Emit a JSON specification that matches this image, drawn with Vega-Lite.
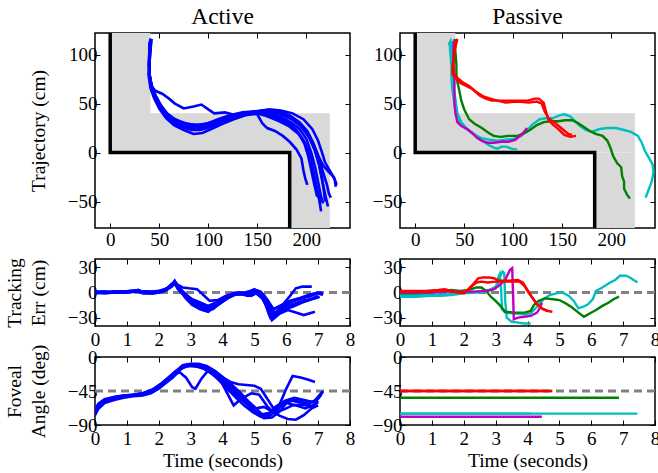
{
"$schema":"https://vega.github.io/schema/vega-lite/v6.json",
"padding":{"left":3,"top":4,"right":0,"bottom":0},
"config":{
 "view":{"stroke":"black","strokeWidth":1.5},
 "font":"Liberation Serif",
 "axis":{"domain":false,"grid":false,"tickSize":-5,"tickColor":"black","tickWidth":1,"labelFont":"Liberation Serif","labelFontSize":19,"labelColor":"black","labelPadding":3,"labelFlush":false,"labelOverlap":false,"labelBound":false,"titleFont":"Liberation Serif","titleFontSize":19.5,"titleFontWeight":"normal","titleColor":"black","titlePadding":3,"titleLineHeight":23.5},
 "title":{"font":"Liberation Serif","fontSize":23.5,"fontWeight":"normal","color":"black","offset":4,"frame":"group"}
},
"datasets":{
"region":[{"x":0,"x2":41,"y":0,"y2":130},{"x":0,"x2":224,"y":0,"y2":40},{"x":183,"x2":224,"y":-90,"y2":0}],
"wall":[{"x":0,"y":130},{"x":0,"y":0},{"x":183,"y":0},{"x":183,"y":-90}],
"ref0":[{"t":0,"v":0},{"t":8,"v":0}],
"ref45":[{"t":0,"v":-45},{"t":8,"v":-45}],
"trajA":[
{"k":"a1","x":41,"y":116},{"k":"a1","x":40,"y":104},{"k":"a1","x":40,"y":92},{"k":"a1","x":40,"y":80},{"k":"a1","x":42,"y":68},{"k":"a1","x":46,"y":63},{"k":"a1","x":53,"y":60},{"k":"a1","x":60,"y":55},{"k":"a1","x":66,"y":50},{"k":"a1","x":75,"y":45},{"k":"a1","x":85,"y":47},{"k":"a1","x":93,"y":49},{"k":"a1","x":100,"y":44},{"k":"a1","x":106,"y":40},{"k":"a1","x":117,"y":41},{"k":"a1","x":128,"y":38},{"k":"a1","x":140,"y":40},{"k":"a1","x":152,"y":41},{"k":"a1","x":163,"y":39},{"k":"a1","x":174,"y":36},{"k":"a1","x":184,"y":31},{"k":"a1","x":193,"y":24},{"k":"a1","x":200,"y":14},{"k":"a1","x":205,"y":0},{"k":"a1","x":209,"y":-15},{"k":"a1","x":212,"y":-30},{"k":"a1","x":215,"y":-45},{"k":"a1","x":217,"y":-52},
{"k":"a2","x":42,"y":116},{"k":"a2","x":41,"y":104},{"k":"a2","x":40,"y":92},{"k":"a2","x":40,"y":80},{"k":"a2","x":42,"y":67},{"k":"a2","x":45,"y":58},{"k":"a2","x":49,"y":50},{"k":"a2","x":54,"y":42},{"k":"a2","x":61,"y":36},{"k":"a2","x":70,"y":32},{"k":"a2","x":80,"y":29},{"k":"a2","x":90,"y":28},{"k":"a2","x":100,"y":30},{"k":"a2","x":110,"y":34},{"k":"a2","x":122,"y":38},{"k":"a2","x":135,"y":41},{"k":"a2","x":148,"y":42},{"k":"a2","x":160,"y":43},{"k":"a2","x":172,"y":42},{"k":"a2","x":183,"y":38},{"k":"a2","x":193,"y":31},{"k":"a2","x":201,"y":22},{"k":"a2","x":207,"y":10},{"k":"a2","x":212,"y":-3},{"k":"a2","x":217,"y":-13},{"k":"a2","x":223,"y":-20},{"k":"a2","x":228,"y":-25},{"k":"a2","x":231,"y":-33},
{"k":"a3","x":41,"y":115},{"k":"a3","x":40,"y":103},{"k":"a3","x":39,"y":90},{"k":"a3","x":40,"y":78},{"k":"a3","x":42,"y":64},{"k":"a3","x":46,"y":54},{"k":"a3","x":51,"y":44},{"k":"a3","x":57,"y":35},{"k":"a3","x":65,"y":28},{"k":"a3","x":75,"y":23},{"k":"a3","x":85,"y":19},{"k":"a3","x":94,"y":20},{"k":"a3","x":103,"y":24},{"k":"a3","x":114,"y":29},{"k":"a3","x":126,"y":34},{"k":"a3","x":138,"y":38},{"k":"a3","x":150,"y":40},{"k":"a3","x":160,"y":37},{"k":"a3","x":170,"y":33},{"k":"a3","x":182,"y":27},{"k":"a3","x":192,"y":19},{"k":"a3","x":199,"y":9},{"k":"a3","x":204,"y":-4},{"k":"a3","x":207,"y":-18},{"k":"a3","x":210,"y":-33},{"k":"a3","x":213,"y":-47},{"k":"a3","x":215,"y":-60},
{"k":"a4","x":41,"y":115},{"k":"a4","x":40,"y":103},{"k":"a4","x":40,"y":90},{"k":"a4","x":40,"y":79},{"k":"a4","x":43,"y":65},{"k":"a4","x":47,"y":55},{"k":"a4","x":52,"y":45},{"k":"a4","x":58,"y":37},{"k":"a4","x":66,"y":31},{"k":"a4","x":76,"y":27},{"k":"a4","x":86,"y":24},{"k":"a4","x":96,"y":26},{"k":"a4","x":107,"y":31},{"k":"a4","x":118,"y":35},{"k":"a4","x":130,"y":38},{"k":"a4","x":142,"y":40},{"k":"a4","x":150,"y":39},{"k":"a4","x":155,"y":30},{"k":"a4","x":160,"y":25},{"k":"a4","x":168,"y":22},{"k":"a4","x":176,"y":17},{"k":"a4","x":183,"y":11},{"k":"a4","x":190,"y":3},{"k":"a4","x":195,"y":-6},{"k":"a4","x":197,"y":-18},{"k":"a4","x":199,"y":-27},{"k":"a4","x":201,"y":-33},
{"k":"a5","x":42,"y":116},{"k":"a5","x":41,"y":103},{"k":"a5","x":40,"y":91},{"k":"a5","x":40,"y":80},{"k":"a5","x":42,"y":66},{"k":"a5","x":46,"y":56},{"k":"a5","x":50,"y":47},{"k":"a5","x":56,"y":39},{"k":"a5","x":63,"y":33},{"k":"a5","x":72,"y":29},{"k":"a5","x":82,"y":26},{"k":"a5","x":92,"y":25},{"k":"a5","x":102,"y":28},{"k":"a5","x":113,"y":32},{"k":"a5","x":125,"y":36},{"k":"a5","x":137,"y":39},{"k":"a5","x":149,"y":41},{"k":"a5","x":160,"y":42},{"k":"a5","x":172,"y":40},{"k":"a5","x":184,"y":36},{"k":"a5","x":194,"y":29},{"k":"a5","x":202,"y":19},{"k":"a5","x":208,"y":7},{"k":"a5","x":213,"y":-6},{"k":"a5","x":217,"y":-20},{"k":"a5","x":221,"y":-33},{"k":"a5","x":223,"y":-42},{"k":"a5","x":225,"y":-46},
{"k":"a6","x":41,"y":116},{"k":"a6","x":40,"y":104},{"k":"a6","x":40,"y":91},{"k":"a6","x":39,"y":80},{"k":"a6","x":41,"y":66},{"k":"a6","x":45,"y":55},{"k":"a6","x":50,"y":45},{"k":"a6","x":56,"y":37},{"k":"a6","x":64,"y":31},{"k":"a6","x":73,"y":26},{"k":"a6","x":83,"y":23},{"k":"a6","x":92,"y":23},{"k":"a6","x":102,"y":26},{"k":"a6","x":112,"y":31},{"k":"a6","x":124,"y":35},{"k":"a6","x":136,"y":39},{"k":"a6","x":148,"y":41},{"k":"a6","x":159,"y":40},{"k":"a6","x":170,"y":36},{"k":"a6","x":181,"y":31},{"k":"a6","x":190,"y":23},{"k":"a6","x":197,"y":13},{"k":"a6","x":202,"y":1},{"k":"a6","x":205,"y":-12},{"k":"a6","x":208,"y":-26},{"k":"a6","x":211,"y":-40},{"k":"a6","x":214,"y":-51},
{"k":"a7","x":41,"y":115},{"k":"a7","x":40,"y":102},{"k":"a7","x":40,"y":90},{"k":"a7","x":40,"y":79},{"k":"a7","x":42,"y":65},{"k":"a7","x":46,"y":56},{"k":"a7","x":51,"y":47},{"k":"a7","x":57,"y":40},{"k":"a7","x":64,"y":34},{"k":"a7","x":73,"y":30},{"k":"a7","x":83,"y":27},{"k":"a7","x":93,"y":27},{"k":"a7","x":103,"y":29},{"k":"a7","x":114,"y":33},{"k":"a7","x":126,"y":37},{"k":"a7","x":138,"y":40},{"k":"a7","x":150,"y":42},{"k":"a7","x":162,"y":44},{"k":"a7","x":174,"y":43},{"k":"a7","x":186,"y":40},{"k":"a7","x":197,"y":34},{"k":"a7","x":206,"y":24},{"k":"a7","x":212,"y":12},{"k":"a7","x":216,"y":0},{"k":"a7","x":219,"y":-10},{"k":"a7","x":223,"y":-17},{"k":"a7","x":226,"y":-22},{"k":"a7","x":229,"y":-28},{"k":"a7","x":230,"y":-35},
{"k":"a8","x":41,"y":115},{"k":"a8","x":40,"y":103},{"k":"a8","x":40,"y":91},{"k":"a8","x":40,"y":80},{"k":"a8","x":42,"y":66},{"k":"a8","x":46,"y":56},{"k":"a8","x":51,"y":47},{"k":"a8","x":57,"y":38},{"k":"a8","x":65,"y":32},{"k":"a8","x":74,"y":28},{"k":"a8","x":84,"y":25},{"k":"a8","x":94,"y":24},{"k":"a8","x":104,"y":27},{"k":"a8","x":115,"y":32},{"k":"a8","x":127,"y":36},{"k":"a8","x":139,"y":39},{"k":"a8","x":151,"y":40},{"k":"a8","x":162,"y":38},{"k":"a8","x":173,"y":34},{"k":"a8","x":184,"y":28},{"k":"a8","x":192,"y":20},{"k":"a8","x":198,"y":9},{"k":"a8","x":202,"y":-4},{"k":"a8","x":205,"y":-18},{"k":"a8","x":208,"y":-32},{"k":"a8","x":211,"y":-45},
{"k":"a9","x":41,"y":116},{"k":"a9","x":40,"y":104},{"k":"a9","x":40,"y":92},{"k":"a9","x":40,"y":81},{"k":"a9","x":42,"y":67},{"k":"a9","x":46,"y":57},{"k":"a9","x":50,"y":48},{"k":"a9","x":55,"y":40},{"k":"a9","x":62,"y":34},{"k":"a9","x":71,"y":29},{"k":"a9","x":81,"y":26},{"k":"a9","x":91,"y":26},{"k":"a9","x":101,"y":28},{"k":"a9","x":112,"y":33},{"k":"a9","x":124,"y":37},{"k":"a9","x":136,"y":40},{"k":"a9","x":149,"y":42},{"k":"a9","x":161,"y":41},{"k":"a9","x":173,"y":39},{"k":"a9","x":185,"y":34},{"k":"a9","x":195,"y":26},{"k":"a9","x":203,"y":15},{"k":"a9","x":209,"y":2},{"k":"a9","x":213,"y":-13},{"k":"a9","x":216,"y":-28},{"k":"a9","x":219,"y":-42},{"k":"a9","x":222,"y":-55},
{"k":"a10","x":41,"y":116},{"k":"a10","x":40,"y":103},{"k":"a10","x":40,"y":90},{"k":"a10","x":40,"y":79},{"k":"a10","x":43,"y":66},{"k":"a10","x":47,"y":57},{"k":"a10","x":52,"y":48},{"k":"a10","x":58,"y":40},{"k":"a10","x":66,"y":34},{"k":"a10","x":76,"y":30},{"k":"a10","x":86,"y":28},{"k":"a10","x":96,"y":29},{"k":"a10","x":106,"y":32},{"k":"a10","x":117,"y":36},{"k":"a10","x":129,"y":39},{"k":"a10","x":141,"y":41},{"k":"a10","x":153,"y":42},{"k":"a10","x":165,"y":41},{"k":"a10","x":177,"y":38},{"k":"a10","x":188,"y":33},{"k":"a10","x":197,"y":25},{"k":"a10","x":204,"y":14},{"k":"a10","x":209,"y":1},{"k":"a10","x":213,"y":-12},{"k":"a10","x":216,"y":-26},{"k":"a10","x":218,"y":-40},{"k":"a10","x":219,"y":-50}
],
"trajP":[
{"k":"c1","c":"c","x":34,"y":110},{"k":"c1","c":"c","x":36,"y":114},{"k":"c1","c":"c","x":38,"y":104},{"k":"c1","c":"c","x":38,"y":92},{"k":"c1","c":"c","x":38,"y":80},{"k":"c1","c":"c","x":39,"y":67},{"k":"c1","c":"c","x":41,"y":55},{"k":"c1","c":"c","x":43,"y":40},{"k":"c1","c":"c","x":47,"y":31},{"k":"c1","c":"c","x":52,"y":25},{"k":"c1","c":"c","x":59,"y":19},{"k":"c1","c":"c","x":67,"y":15},{"k":"c1","c":"c","x":76,"y":13},{"k":"c1","c":"c","x":84,"y":12},{"k":"c1","c":"c","x":92,"y":13},{"k":"c1","c":"c","x":100,"y":14},{"k":"c1","c":"c","x":108,"y":17},{"k":"c1","c":"c","x":114,"y":23},{"k":"c1","c":"c","x":120,"y":29},{"k":"c1","c":"c","x":127,"y":34},{"k":"c1","c":"c","x":133,"y":35},{"k":"c1","c":"c","x":140,"y":35},{"k":"c1","c":"c","x":147,"y":38},{"k":"c1","c":"c","x":152,"y":39},{"k":"c1","c":"c","x":158,"y":37},{"k":"c1","c":"c","x":163,"y":32},{"k":"c1","c":"c","x":168,"y":27},{"k":"c1","c":"c","x":174,"y":23},{"k":"c1","c":"c","x":180,"y":21},{"k":"c1","c":"c","x":188,"y":24},{"k":"c1","c":"c","x":196,"y":25},{"k":"c1","c":"c","x":205,"y":25},{"k":"c1","c":"c","x":213,"y":23},{"k":"c1","c":"c","x":220,"y":21},{"k":"c1","c":"c","x":227,"y":17},{"k":"c1","c":"c","x":231,"y":10},{"k":"c1","c":"c","x":234,"y":2},{"k":"c1","c":"c","x":238,"y":-5},{"k":"c1","c":"c","x":242,"y":-12},{"k":"c1","c":"c","x":243,"y":-20},{"k":"c1","c":"c","x":241,"y":-30},{"k":"c1","c":"c","x":238,"y":-38},{"k":"c1","c":"c","x":235,"y":-46},
{"k":"c2","c":"c","x":35,"y":112},{"k":"c2","c":"c","x":36,"y":100},{"k":"c2","c":"c","x":37,"y":88},{"k":"c2","c":"c","x":37,"y":76},{"k":"c2","c":"c","x":38,"y":63},{"k":"c2","c":"c","x":40,"y":50},{"k":"c2","c":"c","x":42,"y":40},{"k":"c2","c":"c","x":46,"y":30},{"k":"c2","c":"c","x":51,"y":25},{"k":"c2","c":"c","x":57,"y":21},{"k":"c2","c":"c","x":64,"y":16},{"k":"c2","c":"c","x":70,"y":11},{"k":"c2","c":"c","x":76,"y":7},{"k":"c2","c":"c","x":80,"y":5},{"k":"c2","c":"c","x":84,"y":4},{"k":"c2","c":"c","x":88,"y":6},{"k":"c2","c":"c","x":93,"y":6},{"k":"c2","c":"c","x":98,"y":4},{"k":"c2","c":"c","x":104,"y":3},
{"k":"g1","c":"g","x":40,"y":116},{"k":"g1","c":"g","x":41,"y":103},{"k":"g1","c":"g","x":42,"y":90},{"k":"g1","c":"g","x":42,"y":80},{"k":"g1","c":"g","x":43,"y":72},{"k":"g1","c":"g","x":45,"y":63},{"k":"g1","c":"g","x":47,"y":53},{"k":"g1","c":"g","x":50,"y":44},{"k":"g1","c":"g","x":55,"y":34},{"k":"g1","c":"g","x":61,"y":29},{"k":"g1","c":"g","x":68,"y":25},{"k":"g1","c":"g","x":75,"y":20},{"k":"g1","c":"g","x":80,"y":17},{"k":"g1","c":"g","x":87,"y":16},{"k":"g1","c":"g","x":95,"y":17},{"k":"g1","c":"g","x":104,"y":17},{"k":"g1","c":"g","x":110,"y":19},{"k":"g1","c":"g","x":117,"y":23},{"k":"g1","c":"g","x":124,"y":28},{"k":"g1","c":"g","x":131,"y":31},{"k":"g1","c":"g","x":138,"y":32},{"k":"g1","c":"g","x":146,"y":32},{"k":"g1","c":"g","x":153,"y":33},{"k":"g1","c":"g","x":160,"y":33},{"k":"g1","c":"g","x":166,"y":30},{"k":"g1","c":"g","x":172,"y":26},{"k":"g1","c":"g","x":178,"y":22},{"k":"g1","c":"g","x":184,"y":19},{"k":"g1","c":"g","x":191,"y":17},{"k":"g1","c":"g","x":196,"y":12},{"k":"g1","c":"g","x":199,"y":5},{"k":"g1","c":"g","x":202,"y":-4},{"k":"g1","c":"g","x":206,"y":-11},{"k":"g1","c":"g","x":210,"y":-15},{"k":"g1","c":"g","x":211,"y":-24},{"k":"g1","c":"g","x":213,"y":-30},{"k":"g1","c":"g","x":213,"y":-37},{"k":"g1","c":"g","x":216,"y":-43},{"k":"g1","c":"g","x":219,"y":-47},
{"k":"m1","c":"m","x":39,"y":114},{"k":"m1","c":"m","x":39,"y":102},{"k":"m1","c":"m","x":39,"y":90},{"k":"m1","c":"m","x":40,"y":75},{"k":"m1","c":"m","x":40,"y":60},{"k":"m1","c":"m","x":40,"y":50},{"k":"m1","c":"m","x":41,"y":40},{"k":"m1","c":"m","x":43,"y":31},{"k":"m1","c":"m","x":47,"y":27},{"k":"m1","c":"m","x":53,"y":24},{"k":"m1","c":"m","x":58,"y":20},{"k":"m1","c":"m","x":63,"y":15},{"k":"m1","c":"m","x":68,"y":12},{"k":"m1","c":"m","x":74,"y":10},{"k":"m1","c":"m","x":80,"y":10},{"k":"m1","c":"m","x":88,"y":11},{"k":"m1","c":"m","x":95,"y":11},{"k":"m1","c":"m","x":102,"y":13},{"k":"m1","c":"m","x":107,"y":17},{"k":"m1","c":"m","x":111,"y":21},{"k":"m1","c":"m","x":114,"y":25},
{"k":"r1","c":"r","x":42,"y":115},{"k":"r1","c":"r","x":41,"y":110},{"k":"r1","c":"r","x":40,"y":103},{"k":"r1","c":"r","x":39,"y":95},{"k":"r1","c":"r","x":38,"y":88},{"k":"r1","c":"r","x":38,"y":80},{"k":"r1","c":"r","x":41,"y":76},{"k":"r1","c":"r","x":46,"y":71},{"k":"r1","c":"r","x":52,"y":68},{"k":"r1","c":"r","x":58,"y":65},{"k":"r1","c":"r","x":66,"y":58},{"k":"r1","c":"r","x":72,"y":55},{"k":"r1","c":"r","x":78,"y":53},{"k":"r1","c":"r","x":90,"y":53},{"k":"r1","c":"r","x":103,"y":53},{"k":"r1","c":"r","x":115,"y":53},{"k":"r1","c":"r","x":122,"y":55},{"k":"r1","c":"r","x":126,"y":55},{"k":"r1","c":"r","x":131,"y":51},{"k":"r1","c":"r","x":133,"y":43},{"k":"r1","c":"r","x":136,"y":33},{"k":"r1","c":"r","x":141,"y":28},{"k":"r1","c":"r","x":146,"y":24},{"k":"r1","c":"r","x":152,"y":18},{"k":"r1","c":"r","x":158,"y":16},{"k":"r1","c":"r","x":164,"y":17},
{"k":"r2","c":"r","x":43,"y":116},{"k":"r2","c":"r","x":41,"y":108},{"k":"r2","c":"r","x":39,"y":98},{"k":"r2","c":"r","x":39,"y":88},{"k":"r2","c":"r","x":39,"y":81},{"k":"r2","c":"r","x":42,"y":77},{"k":"r2","c":"r","x":48,"y":72},{"k":"r2","c":"r","x":55,"y":68},{"k":"r2","c":"r","x":62,"y":62},{"k":"r2","c":"r","x":70,"y":57},{"k":"r2","c":"r","x":80,"y":54},{"k":"r2","c":"r","x":92,"y":51},{"k":"r2","c":"r","x":104,"y":52},{"k":"r2","c":"r","x":116,"y":51},{"k":"r2","c":"r","x":124,"y":52},{"k":"r2","c":"r","x":129,"y":50},{"k":"r2","c":"r","x":132,"y":42},{"k":"r2","c":"r","x":136,"y":35},{"k":"r2","c":"r","x":143,"y":30},{"k":"r2","c":"r","x":150,"y":24},{"k":"r2","c":"r","x":156,"y":19},{"k":"r2","c":"r","x":160,"y":18}
],
"errA":[
{"k":"e1","t":0,"v":1},{"k":"e1","t":0.3,"v":0},{"k":"e1","t":0.6,"v":1},{"k":"e1","t":0.9,"v":1},{"k":"e1","t":1.2,"v":2},{"k":"e1","t":1.35,"v":3},{"k":"e1","t":1.5,"v":1},{"k":"e1","t":1.8,"v":0},{"k":"e1","t":2.0,"v":1},{"k":"e1","t":2.2,"v":4},{"k":"e1","t":2.4,"v":8},{"k":"e1","t":2.5,"v":13},{"k":"e1","t":2.6,"v":9},{"k":"e1","t":2.75,"v":6},{"k":"e1","t":2.95,"v":5},{"k":"e1","t":3.2,"v":4},{"k":"e1","t":3.4,"v":-3},{"k":"e1","t":3.6,"v":-10},{"k":"e1","t":3.85,"v":-9},{"k":"e1","t":4.1,"v":-4},{"k":"e1","t":4.4,"v":0},{"k":"e1","t":4.7,"v":0},{"k":"e1","t":5.0,"v":3},{"k":"e1","t":5.2,"v":1},{"k":"e1","t":5.4,"v":-8},{"k":"e1","t":5.6,"v":-20},{"k":"e1","t":5.9,"v":-14},{"k":"e1","t":6.1,"v":-5},{"k":"e1","t":6.3,"v":5},{"k":"e1","t":6.5,"v":7},{"k":"e1","t":6.8,"v":7},
{"k":"e2","t":0,"v":0},{"k":"e2","t":0.3,"v":0},{"k":"e2","t":0.6,"v":0},{"k":"e2","t":0.9,"v":1},{"k":"e2","t":1.2,"v":1},{"k":"e2","t":1.35,"v":2},{"k":"e2","t":1.5,"v":0},{"k":"e2","t":1.8,"v":0},{"k":"e2","t":2.0,"v":1},{"k":"e2","t":2.2,"v":3},{"k":"e2","t":2.4,"v":9},{"k":"e2","t":2.5,"v":14},{"k":"e2","t":2.6,"v":6},{"k":"e2","t":2.8,"v":-4},{"k":"e2","t":3.0,"v":-11},{"k":"e2","t":3.25,"v":-16},{"k":"e2","t":3.5,"v":-21},{"k":"e2","t":3.75,"v":-17},{"k":"e2","t":4.0,"v":-10},{"k":"e2","t":4.25,"v":-4},{"k":"e2","t":4.5,"v":-1},{"k":"e2","t":4.8,"v":-3},{"k":"e2","t":5.0,"v":2},{"k":"e2","t":5.2,"v":-2},{"k":"e2","t":5.35,"v":-14},{"k":"e2","t":5.5,"v":-30},{"k":"e2","t":5.7,"v":-26},{"k":"e2","t":5.95,"v":-20},{"k":"e2","t":6.2,"v":-17},{"k":"e2","t":6.5,"v":-12},{"k":"e2","t":6.8,"v":-8},{"k":"e2","t":7.0,"v":-6},
{"k":"e3","t":0,"v":-1},{"k":"e3","t":0.3,"v":0},{"k":"e3","t":0.6,"v":0},{"k":"e3","t":0.9,"v":0},{"k":"e3","t":1.2,"v":1},{"k":"e3","t":1.35,"v":2},{"k":"e3","t":1.5,"v":-1},{"k":"e3","t":1.8,"v":-1},{"k":"e3","t":2.0,"v":0},{"k":"e3","t":2.2,"v":3},{"k":"e3","t":2.4,"v":10},{"k":"e3","t":2.5,"v":12},{"k":"e3","t":2.65,"v":4},{"k":"e3","t":2.85,"v":-7},{"k":"e3","t":3.05,"v":-15},{"k":"e3","t":3.3,"v":-20},{"k":"e3","t":3.55,"v":-23},{"k":"e3","t":3.8,"v":-16},{"k":"e3","t":4.05,"v":-9},{"k":"e3","t":4.3,"v":-3},{"k":"e3","t":4.6,"v":-2},{"k":"e3","t":4.9,"v":-4},{"k":"e3","t":5.1,"v":0},{"k":"e3","t":5.3,"v":-8},{"k":"e3","t":5.45,"v":-25},{"k":"e3","t":5.55,"v":-33},{"k":"e3","t":5.8,"v":-25},{"k":"e3","t":6.05,"v":-21},{"k":"e3","t":6.3,"v":-24},{"k":"e3","t":6.55,"v":-27},{"k":"e3","t":6.9,"v":-23},
{"k":"e4","t":0,"v":0},{"k":"e4","t":0.3,"v":1},{"k":"e4","t":0.6,"v":0},{"k":"e4","t":0.9,"v":1},{"k":"e4","t":1.2,"v":2},{"k":"e4","t":1.35,"v":2},{"k":"e4","t":1.5,"v":1},{"k":"e4","t":1.8,"v":0},{"k":"e4","t":2.0,"v":1},{"k":"e4","t":2.2,"v":3},{"k":"e4","t":2.4,"v":7},{"k":"e4","t":2.5,"v":11},{"k":"e4","t":2.6,"v":4},{"k":"e4","t":2.8,"v":-3},{"k":"e4","t":3.0,"v":-9},{"k":"e4","t":3.3,"v":-14},{"k":"e4","t":3.6,"v":-18},{"k":"e4","t":3.9,"v":-13},{"k":"e4","t":4.15,"v":-7},{"k":"e4","t":4.4,"v":-2},{"k":"e4","t":4.7,"v":-1},{"k":"e4","t":5.0,"v":1},{"k":"e4","t":5.2,"v":-4},{"k":"e4","t":5.4,"v":-17},{"k":"e4","t":5.6,"v":-26},{"k":"e4","t":5.85,"v":-18},{"k":"e4","t":6.1,"v":-12},{"k":"e4","t":6.4,"v":-8},{"k":"e4","t":6.7,"v":-5},{"k":"e4","t":7.0,"v":-1},{"k":"e4","t":7.15,"v":-3},
{"k":"e5","t":0,"v":0},{"k":"e5","t":0.3,"v":0},{"k":"e5","t":0.6,"v":1},{"k":"e5","t":0.9,"v":0},{"k":"e5","t":1.2,"v":1},{"k":"e5","t":1.35,"v":1},{"k":"e5","t":1.5,"v":0},{"k":"e5","t":1.8,"v":1},{"k":"e5","t":2.0,"v":2},{"k":"e5","t":2.2,"v":4},{"k":"e5","t":2.4,"v":8},{"k":"e5","t":2.5,"v":12},{"k":"e5","t":2.65,"v":3},{"k":"e5","t":2.85,"v":-5},{"k":"e5","t":3.1,"v":-12},{"k":"e5","t":3.4,"v":-17},{"k":"e5","t":3.65,"v":-19},{"k":"e5","t":3.9,"v":-14},{"k":"e5","t":4.2,"v":-6},{"k":"e5","t":4.5,"v":-1},{"k":"e5","t":4.8,"v":-2},{"k":"e5","t":5.05,"v":0},{"k":"e5","t":5.25,"v":-6},{"k":"e5","t":5.45,"v":-22},{"k":"e5","t":5.6,"v":-29},{"k":"e5","t":5.8,"v":-22},{"k":"e5","t":6.1,"v":-16},{"k":"e5","t":6.4,"v":-12},{"k":"e5","t":6.7,"v":-9},{"k":"e5","t":7.0,"v":-4},
{"k":"e6","t":0,"v":1},{"k":"e6","t":0.3,"v":1},{"k":"e6","t":0.6,"v":0},{"k":"e6","t":0.9,"v":0},{"k":"e6","t":1.2,"v":1},{"k":"e6","t":1.35,"v":3},{"k":"e6","t":1.5,"v":0},{"k":"e6","t":1.8,"v":-1},{"k":"e6","t":2.0,"v":0},{"k":"e6","t":2.2,"v":2},{"k":"e6","t":2.4,"v":9},{"k":"e6","t":2.5,"v":13},{"k":"e6","t":2.7,"v":2},{"k":"e6","t":2.9,"v":-6},{"k":"e6","t":3.15,"v":-13},{"k":"e6","t":3.45,"v":-19},{"k":"e6","t":3.7,"v":-20},{"k":"e6","t":3.95,"v":-12},{"k":"e6","t":4.2,"v":-5},{"k":"e6","t":4.5,"v":0},{"k":"e6","t":4.8,"v":-3},{"k":"e6","t":5.1,"v":2},{"k":"e6","t":5.3,"v":-3},{"k":"e6","t":5.5,"v":-18},{"k":"e6","t":5.65,"v":-24},{"k":"e6","t":5.9,"v":-17},{"k":"e6","t":6.2,"v":-10},{"k":"e6","t":6.5,"v":-6},{"k":"e6","t":6.8,"v":-2},{"k":"e6","t":7.1,"v":0},
{"k":"e7","t":0,"v":0},{"k":"e7","t":0.3,"v":0},{"k":"e7","t":0.6,"v":0},{"k":"e7","t":0.9,"v":1},{"k":"e7","t":1.2,"v":2},{"k":"e7","t":1.35,"v":2},{"k":"e7","t":1.5,"v":1},{"k":"e7","t":1.8,"v":0},{"k":"e7","t":2.0,"v":1},{"k":"e7","t":2.2,"v":4},{"k":"e7","t":2.4,"v":8},{"k":"e7","t":2.5,"v":12},{"k":"e7","t":2.65,"v":5},{"k":"e7","t":2.85,"v":-2},{"k":"e7","t":3.05,"v":-8},{"k":"e7","t":3.3,"v":-12},{"k":"e7","t":3.55,"v":-16},{"k":"e7","t":3.8,"v":-12},{"k":"e7","t":4.1,"v":-5},{"k":"e7","t":4.4,"v":-1},{"k":"e7","t":4.7,"v":-1},{"k":"e7","t":5.0,"v":4},{"k":"e7","t":5.2,"v":0},{"k":"e7","t":5.4,"v":-10},{"k":"e7","t":5.6,"v":-20},{"k":"e7","t":5.85,"v":-16},{"k":"e7","t":6.1,"v":-10},{"k":"e7","t":6.4,"v":-7},{"k":"e7","t":6.7,"v":-3},{"k":"e7","t":7.0,"v":0},{"k":"e7","t":7.15,"v":-1},
{"k":"e8","t":0,"v":0},{"k":"e8","t":0.3,"v":-1},{"k":"e8","t":0.6,"v":0},{"k":"e8","t":0.9,"v":0},{"k":"e8","t":1.2,"v":1},{"k":"e8","t":1.35,"v":1},{"k":"e8","t":1.5,"v":0},{"k":"e8","t":1.8,"v":0},{"k":"e8","t":2.0,"v":0},{"k":"e8","t":2.2,"v":2},{"k":"e8","t":2.4,"v":7},{"k":"e8","t":2.5,"v":11},{"k":"e8","t":2.7,"v":0},{"k":"e8","t":2.9,"v":-8},{"k":"e8","t":3.15,"v":-15},{"k":"e8","t":3.4,"v":-21},{"k":"e8","t":3.65,"v":-18},{"k":"e8","t":3.9,"v":-11},{"k":"e8","t":4.2,"v":-4},{"k":"e8","t":4.5,"v":-1},{"k":"e8","t":4.8,"v":-4},{"k":"e8","t":5.05,"v":-1},{"k":"e8","t":5.25,"v":-7},{"k":"e8","t":5.45,"v":-20},{"k":"e8","t":5.6,"v":-27},{"k":"e8","t":5.85,"v":-21},{"k":"e8","t":6.15,"v":-15},{"k":"e8","t":6.45,"v":-11},{"k":"e8","t":6.75,"v":-8},{"k":"e8","t":7.05,"v":-5},
{"k":"e9","t":0,"v":0},{"k":"e9","t":0.3,"v":0},{"k":"e9","t":0.6,"v":1},{"k":"e9","t":0.9,"v":1},{"k":"e9","t":1.2,"v":1},{"k":"e9","t":1.35,"v":2},{"k":"e9","t":1.5,"v":1},{"k":"e9","t":1.8,"v":1},{"k":"e9","t":2.0,"v":1},{"k":"e9","t":2.2,"v":3},{"k":"e9","t":2.4,"v":9},{"k":"e9","t":2.5,"v":12},{"k":"e9","t":2.7,"v":3},{"k":"e9","t":2.9,"v":-5},{"k":"e9","t":3.1,"v":-12},{"k":"e9","t":3.35,"v":-18},{"k":"e9","t":3.6,"v":-20},{"k":"e9","t":3.85,"v":-14},{"k":"e9","t":4.1,"v":-7},{"k":"e9","t":4.4,"v":-2},{"k":"e9","t":4.7,"v":-2},{"k":"e9","t":4.95,"v":1},{"k":"e9","t":5.2,"v":-2},{"k":"e9","t":5.4,"v":-14},{"k":"e9","t":5.55,"v":-26},{"k":"e9","t":5.75,"v":-22},{"k":"e9","t":6.0,"v":-17},{"k":"e9","t":6.3,"v":-13},{"k":"e9","t":6.6,"v":-9}
],
"errP":[
{"k":"c1","c":"c","t":0,"v":-5},{"k":"c1","c":"c","t":0.5,"v":-5},{"k":"c1","c":"c","t":0.95,"v":-4},{"k":"c1","c":"c","t":1.3,"v":-4},{"k":"c1","c":"c","t":1.6,"v":-3},{"k":"c1","c":"c","t":2.0,"v":-1},{"k":"c1","c":"c","t":2.4,"v":0},{"k":"c1","c":"c","t":2.8,"v":2},{"k":"c1","c":"c","t":3.0,"v":5},{"k":"c1","c":"c","t":3.08,"v":18},{"k":"c1","c":"c","t":3.13,"v":22},{"k":"c1","c":"c","t":3.17,"v":5},{"k":"c1","c":"c","t":3.2,"v":-20},{"k":"c1","c":"c","t":3.3,"v":-24},{"k":"c1","c":"c","t":3.6,"v":-25},{"k":"c1","c":"c","t":3.9,"v":-26},{"k":"c1","c":"c","t":4.1,"v":-25},{"k":"c1","c":"c","t":4.3,"v":-17},{"k":"c1","c":"c","t":4.5,"v":-8},{"k":"c1","c":"c","t":4.7,"v":-3},{"k":"c1","c":"c","t":4.9,"v":-1},{"k":"c1","c":"c","t":5.1,"v":0},{"k":"c1","c":"c","t":5.3,"v":-4},{"k":"c1","c":"c","t":5.45,"v":-10},{"k":"c1","c":"c","t":5.6,"v":-19},{"k":"c1","c":"c","t":5.75,"v":-17},{"k":"c1","c":"c","t":5.9,"v":-14},{"k":"c1","c":"c","t":6.05,"v":-8},{"k":"c1","c":"c","t":6.15,"v":2},{"k":"c1","c":"c","t":6.35,"v":6},{"k":"c1","c":"c","t":6.55,"v":11},{"k":"c1","c":"c","t":6.75,"v":15},{"k":"c1","c":"c","t":6.9,"v":20},{"k":"c1","c":"c","t":7.1,"v":20},{"k":"c1","c":"c","t":7.25,"v":17},{"k":"c1","c":"c","t":7.45,"v":12},
{"k":"c2","c":"c","t":0,"v":-3},{"k":"c2","c":"c","t":0.5,"v":-3},{"k":"c2","c":"c","t":1.0,"v":-3},{"k":"c2","c":"c","t":1.5,"v":-2},{"k":"c2","c":"c","t":2.0,"v":0},{"k":"c2","c":"c","t":2.4,"v":1},{"k":"c2","c":"c","t":2.8,"v":3},{"k":"c2","c":"c","t":3.05,"v":8},{"k":"c2","c":"c","t":3.15,"v":20},{"k":"c2","c":"c","t":3.22,"v":25},{"k":"c2","c":"c","t":3.27,"v":23},{"k":"c2","c":"c","t":3.3,"v":-10},{"k":"c2","c":"c","t":3.35,"v":-30},{"k":"c2","c":"c","t":3.5,"v":-35},{"k":"c2","c":"c","t":3.7,"v":-36},{"k":"c2","c":"c","t":3.9,"v":-37},{"k":"c2","c":"c","t":4.1,"v":-37},
{"k":"g1","c":"g","t":0,"v":-1},{"k":"g1","c":"g","t":0.5,"v":-1},{"k":"g1","c":"g","t":0.95,"v":0},{"k":"g1","c":"g","t":1.3,"v":1},{"k":"g1","c":"g","t":1.6,"v":3},{"k":"g1","c":"g","t":1.9,"v":2},{"k":"g1","c":"g","t":2.15,"v":3},{"k":"g1","c":"g","t":2.4,"v":6},{"k":"g1","c":"g","t":2.55,"v":6},{"k":"g1","c":"g","t":2.7,"v":2},{"k":"g1","c":"g","t":2.85,"v":-5},{"k":"g1","c":"g","t":3.0,"v":-10},{"k":"g1","c":"g","t":3.15,"v":-16},{"k":"g1","c":"g","t":3.3,"v":-23},{"k":"g1","c":"g","t":3.6,"v":-24},{"k":"g1","c":"g","t":3.9,"v":-24},{"k":"g1","c":"g","t":4.1,"v":-22},{"k":"g1","c":"g","t":4.2,"v":-15},{"k":"g1","c":"g","t":4.35,"v":-10},{"k":"g1","c":"g","t":4.55,"v":-7},{"k":"g1","c":"g","t":4.8,"v":-8},{"k":"g1","c":"g","t":5.0,"v":-9},{"k":"g1","c":"g","t":5.2,"v":-13},{"k":"g1","c":"g","t":5.4,"v":-18},{"k":"g1","c":"g","t":5.6,"v":-24},{"k":"g1","c":"g","t":5.77,"v":-29},{"k":"g1","c":"g","t":5.95,"v":-25},{"k":"g1","c":"g","t":6.15,"v":-21},{"k":"g1","c":"g","t":6.35,"v":-16},{"k":"g1","c":"g","t":6.55,"v":-12},{"k":"g1","c":"g","t":6.7,"v":-8},{"k":"g1","c":"g","t":6.87,"v":-5},
{"k":"m1","c":"m","t":0,"v":0},{"k":"m1","c":"m","t":0.5,"v":0},{"k":"m1","c":"m","t":1.0,"v":0},{"k":"m1","c":"m","t":1.5,"v":1},{"k":"m1","c":"m","t":1.9,"v":1},{"k":"m1","c":"m","t":2.3,"v":1},{"k":"m1","c":"m","t":2.7,"v":2},{"k":"m1","c":"m","t":2.95,"v":4},{"k":"m1","c":"m","t":3.1,"v":8},{"k":"m1","c":"m","t":3.3,"v":15},{"k":"m1","c":"m","t":3.45,"v":27},{"k":"m1","c":"m","t":3.52,"v":29},{"k":"m1","c":"m","t":3.55,"v":-5},{"k":"m1","c":"m","t":3.57,"v":-32},{"k":"m1","c":"m","t":3.7,"v":-30},{"k":"m1","c":"m","t":3.9,"v":-29},{"k":"m1","c":"m","t":4.1,"v":-28},{"k":"m1","c":"m","t":4.3,"v":-24},{"k":"m1","c":"m","t":4.4,"v":-18},{"k":"m1","c":"m","t":4.45,"v":-12},
{"k":"r1","c":"r","t":0,"v":2},{"k":"r1","c":"r","t":0.4,"v":2},{"k":"r1","c":"r","t":0.8,"v":2},{"k":"r1","c":"r","t":1.2,"v":3},{"k":"r1","c":"r","t":1.4,"v":4},{"k":"r1","c":"r","t":1.6,"v":2},{"k":"r1","c":"r","t":1.85,"v":0},{"k":"r1","c":"r","t":2.0,"v":-1},{"k":"r1","c":"r","t":2.15,"v":4},{"k":"r1","c":"r","t":2.3,"v":10},{"k":"r1","c":"r","t":2.45,"v":17},{"k":"r1","c":"r","t":2.6,"v":18},{"k":"r1","c":"r","t":2.8,"v":18},{"k":"r1","c":"r","t":2.95,"v":17},{"k":"r1","c":"r","t":3.1,"v":14},{"k":"r1","c":"r","t":3.4,"v":14},{"k":"r1","c":"r","t":3.7,"v":15},{"k":"r1","c":"r","t":3.85,"v":12},{"k":"r1","c":"r","t":4.0,"v":3},{"k":"r1","c":"r","t":4.15,"v":-6},{"k":"r1","c":"r","t":4.3,"v":-14},{"k":"r1","c":"r","t":4.45,"v":-19},{"k":"r1","c":"r","t":4.6,"v":-22},{"k":"r1","c":"r","t":4.78,"v":-23},
{"k":"r2","c":"r","t":0,"v":1},{"k":"r2","c":"r","t":0.4,"v":1},{"k":"r2","c":"r","t":0.8,"v":1},{"k":"r2","c":"r","t":1.2,"v":2},{"k":"r2","c":"r","t":1.4,"v":3},{"k":"r2","c":"r","t":1.6,"v":1},{"k":"r2","c":"r","t":1.85,"v":0},{"k":"r2","c":"r","t":2.05,"v":0},{"k":"r2","c":"r","t":2.2,"v":6},{"k":"r2","c":"r","t":2.4,"v":12},{"k":"r2","c":"r","t":2.55,"v":13},{"k":"r2","c":"r","t":2.75,"v":12},{"k":"r2","c":"r","t":3.0,"v":13},{"k":"r2","c":"r","t":3.3,"v":13},{"k":"r2","c":"r","t":3.55,"v":13},{"k":"r2","c":"r","t":3.75,"v":13},{"k":"r2","c":"r","t":3.9,"v":8},{"k":"r2","c":"r","t":4.05,"v":-1},{"k":"r2","c":"r","t":4.2,"v":-9},{"k":"r2","c":"r","t":4.35,"v":-16},{"k":"r2","c":"r","t":4.5,"v":-20},{"k":"r2","c":"r","t":4.65,"v":-22}
],
"angA":[
{"k":"f1","t":0,"v":-74},{"k":"f1","t":0.1,"v":-65},{"k":"f1","t":0.3,"v":-58},{"k":"f1","t":0.6,"v":-54},{"k":"f1","t":0.9,"v":-52},{"k":"f1","t":1.2,"v":-50},{"k":"f1","t":1.5,"v":-49},{"k":"f1","t":1.8,"v":-45},{"k":"f1","t":2.05,"v":-38},{"k":"f1","t":2.3,"v":-29},{"k":"f1","t":2.55,"v":-20},{"k":"f1","t":2.75,"v":-12},{"k":"f1","t":3.0,"v":-10},{"k":"f1","t":3.25,"v":-11},{"k":"f1","t":3.5,"v":-14},{"k":"f1","t":3.75,"v":-20},{"k":"f1","t":4.0,"v":-27},{"k":"f1","t":4.25,"v":-33},{"k":"f1","t":4.5,"v":-36},{"k":"f1","t":4.75,"v":-37},{"k":"f1","t":5.0,"v":-38},{"k":"f1","t":5.2,"v":-42},{"k":"f1","t":5.4,"v":-55},{"k":"f1","t":5.6,"v":-68},{"k":"f1","t":5.8,"v":-62},{"k":"f1","t":6.0,"v":-42},{"k":"f1","t":6.2,"v":-25},{"k":"f1","t":6.45,"v":-27},{"k":"f1","t":6.7,"v":-30},{"k":"f1","t":6.9,"v":-33},
{"k":"f2","t":0,"v":-76},{"k":"f2","t":0.1,"v":-67},{"k":"f2","t":0.3,"v":-59},{"k":"f2","t":0.6,"v":-55},{"k":"f2","t":0.9,"v":-53},{"k":"f2","t":1.2,"v":-51},{"k":"f2","t":1.5,"v":-50},{"k":"f2","t":1.75,"v":-47},{"k":"f2","t":2.0,"v":-39},{"k":"f2","t":2.2,"v":-33},{"k":"f2","t":2.45,"v":-25},{"k":"f2","t":2.65,"v":-20},{"k":"f2","t":2.85,"v":-27},{"k":"f2","t":3.05,"v":-40},{"k":"f2","t":3.15,"v":-42},{"k":"f2","t":3.35,"v":-28},{"k":"f2","t":3.55,"v":-18},{"k":"f2","t":3.75,"v":-21},{"k":"f2","t":4.0,"v":-36},{"k":"f2","t":4.2,"v":-52},{"k":"f2","t":4.35,"v":-64},{"k":"f2","t":4.6,"v":-55},{"k":"f2","t":4.9,"v":-48},{"k":"f2","t":5.15,"v":-50},{"k":"f2","t":5.4,"v":-65},{"k":"f2","t":5.6,"v":-73},{"k":"f2","t":5.9,"v":-70},{"k":"f2","t":6.2,"v":-64},{"k":"f2","t":6.5,"v":-63},{"k":"f2","t":6.8,"v":-66},{"k":"f2","t":7.0,"v":-58},
{"k":"f3","t":0,"v":-74},{"k":"f3","t":0.1,"v":-64},{"k":"f3","t":0.3,"v":-58},{"k":"f3","t":0.6,"v":-54},{"k":"f3","t":0.9,"v":-52},{"k":"f3","t":1.2,"v":-51},{"k":"f3","t":1.5,"v":-49},{"k":"f3","t":1.8,"v":-46},{"k":"f3","t":2.0,"v":-40},{"k":"f3","t":2.25,"v":-32},{"k":"f3","t":2.5,"v":-23},{"k":"f3","t":2.7,"v":-13},{"k":"f3","t":2.9,"v":-10},{"k":"f3","t":3.2,"v":-10},{"k":"f3","t":3.45,"v":-13},{"k":"f3","t":3.7,"v":-19},{"k":"f3","t":3.95,"v":-28},{"k":"f3","t":4.2,"v":-38},{"k":"f3","t":4.45,"v":-49},{"k":"f3","t":4.7,"v":-60},{"k":"f3","t":4.95,"v":-70},{"k":"f3","t":5.15,"v":-77},{"k":"f3","t":5.35,"v":-78},{"k":"f3","t":5.6,"v":-72},{"k":"f3","t":5.85,"v":-63},{"k":"f3","t":6.1,"v":-57},{"k":"f3","t":6.4,"v":-59},{"k":"f3","t":6.7,"v":-62},{"k":"f3","t":7.0,"v":-55},{"k":"f3","t":7.15,"v":-46},
{"k":"f4","t":0,"v":-77},{"k":"f4","t":0.1,"v":-69},{"k":"f4","t":0.3,"v":-61},{"k":"f4","t":0.6,"v":-57},{"k":"f4","t":0.9,"v":-54},{"k":"f4","t":1.2,"v":-52},{"k":"f4","t":1.5,"v":-51},{"k":"f4","t":1.75,"v":-48},{"k":"f4","t":2.0,"v":-42},{"k":"f4","t":2.2,"v":-35},{"k":"f4","t":2.45,"v":-27},{"k":"f4","t":2.65,"v":-17},{"k":"f4","t":2.85,"v":-12},{"k":"f4","t":3.1,"v":-11},{"k":"f4","t":3.35,"v":-12},{"k":"f4","t":3.6,"v":-17},{"k":"f4","t":3.85,"v":-25},{"k":"f4","t":4.1,"v":-34},{"k":"f4","t":4.35,"v":-44},{"k":"f4","t":4.6,"v":-55},{"k":"f4","t":4.85,"v":-66},{"k":"f4","t":5.05,"v":-75},{"k":"f4","t":5.3,"v":-81},{"k":"f4","t":5.55,"v":-80},{"k":"f4","t":5.8,"v":-72},{"k":"f4","t":6.0,"v":-61},{"k":"f4","t":6.3,"v":-64},{"k":"f4","t":6.6,"v":-68},{"k":"f4","t":6.9,"v":-63},
{"k":"f5","t":0,"v":-73},{"k":"f5","t":0.1,"v":-63},{"k":"f5","t":0.3,"v":-57},{"k":"f5","t":0.6,"v":-53},{"k":"f5","t":0.9,"v":-51},{"k":"f5","t":1.2,"v":-50},{"k":"f5","t":1.5,"v":-48},{"k":"f5","t":1.8,"v":-44},{"k":"f5","t":2.05,"v":-37},{"k":"f5","t":2.3,"v":-28},{"k":"f5","t":2.55,"v":-19},{"k":"f5","t":2.75,"v":-11},{"k":"f5","t":3.0,"v":-9},{"k":"f5","t":3.25,"v":-9},{"k":"f5","t":3.5,"v":-12},{"k":"f5","t":3.75,"v":-18},{"k":"f5","t":4.0,"v":-26},{"k":"f5","t":4.3,"v":-37},{"k":"f5","t":4.55,"v":-47},{"k":"f5","t":4.8,"v":-58},{"k":"f5","t":5.05,"v":-68},{"k":"f5","t":5.25,"v":-76},{"k":"f5","t":5.5,"v":-77},{"k":"f5","t":5.75,"v":-68},{"k":"f5","t":6.0,"v":-58},{"k":"f5","t":6.3,"v":-55},{"k":"f5","t":6.6,"v":-58},{"k":"f5","t":6.9,"v":-60},{"k":"f5","t":7.1,"v":-50},
{"k":"f6","t":0,"v":-76},{"k":"f6","t":0.1,"v":-66},{"k":"f6","t":0.3,"v":-59},{"k":"f6","t":0.6,"v":-55},{"k":"f6","t":0.9,"v":-52},{"k":"f6","t":1.2,"v":-51},{"k":"f6","t":1.5,"v":-49},{"k":"f6","t":1.8,"v":-45},{"k":"f6","t":2.05,"v":-38},{"k":"f6","t":2.3,"v":-30},{"k":"f6","t":2.55,"v":-20},{"k":"f6","t":2.8,"v":-13},{"k":"f6","t":3.05,"v":-11},{"k":"f6","t":3.3,"v":-13},{"k":"f6","t":3.6,"v":-20},{"k":"f6","t":3.9,"v":-30},{"k":"f6","t":4.2,"v":-42},{"k":"f6","t":4.5,"v":-53},{"k":"f6","t":4.8,"v":-62},{"k":"f6","t":5.05,"v":-68},{"k":"f6","t":5.3,"v":-66},{"k":"f6","t":5.55,"v":-72},{"k":"f6","t":5.8,"v":-78},{"k":"f6","t":6.05,"v":-82},{"k":"f6","t":6.3,"v":-83},{"k":"f6","t":6.55,"v":-77},{"k":"f6","t":6.8,"v":-68},{"k":"f6","t":7.0,"v":-64},
{"k":"f7","t":0,"v":-72},{"k":"f7","t":0.1,"v":-62},{"k":"f7","t":0.3,"v":-56},{"k":"f7","t":0.6,"v":-53},{"k":"f7","t":0.9,"v":-51},{"k":"f7","t":1.2,"v":-50},{"k":"f7","t":1.5,"v":-48},{"k":"f7","t":1.8,"v":-43},{"k":"f7","t":2.05,"v":-36},{"k":"f7","t":2.3,"v":-27},{"k":"f7","t":2.55,"v":-18},{"k":"f7","t":2.8,"v":-11},{"k":"f7","t":3.05,"v":-10},{"k":"f7","t":3.3,"v":-11},{"k":"f7","t":3.55,"v":-15},{"k":"f7","t":3.8,"v":-22},{"k":"f7","t":4.05,"v":-31},{"k":"f7","t":4.3,"v":-41},{"k":"f7","t":4.55,"v":-51},{"k":"f7","t":4.8,"v":-62},{"k":"f7","t":5.0,"v":-71},{"k":"f7","t":5.2,"v":-76},{"k":"f7","t":5.45,"v":-74},{"k":"f7","t":5.7,"v":-66},{"k":"f7","t":5.95,"v":-58},{"k":"f7","t":6.25,"v":-54},{"k":"f7","t":6.55,"v":-57},{"k":"f7","t":6.85,"v":-60},{"k":"f7","t":7.15,"v":-45},
{"k":"f8","t":0,"v":-75},{"k":"f8","t":0.1,"v":-65},{"k":"f8","t":0.3,"v":-58},{"k":"f8","t":0.6,"v":-54},{"k":"f8","t":0.9,"v":-52},{"k":"f8","t":1.2,"v":-51},{"k":"f8","t":1.5,"v":-50},{"k":"f8","t":1.75,"v":-47},{"k":"f8","t":2.0,"v":-41},{"k":"f8","t":2.25,"v":-33},{"k":"f8","t":2.5,"v":-24},{"k":"f8","t":2.7,"v":-15},{"k":"f8","t":2.95,"v":-12},{"k":"f8","t":3.2,"v":-13},{"k":"f8","t":3.45,"v":-16},{"k":"f8","t":3.7,"v":-23},{"k":"f8","t":3.95,"v":-33},{"k":"f8","t":4.2,"v":-44},{"k":"f8","t":4.45,"v":-55},{"k":"f8","t":4.7,"v":-65},{"k":"f8","t":4.95,"v":-73},{"k":"f8","t":5.2,"v":-79},{"k":"f8","t":5.45,"v":-79},{"k":"f8","t":5.7,"v":-70},{"k":"f8","t":5.95,"v":-61},{"k":"f8","t":6.2,"v":-58},{"k":"f8","t":6.5,"v":-61},{"k":"f8","t":6.8,"v":-65},{"k":"f8","t":7.0,"v":-60}
],
"angP":[
{"k":"c1","c":"c","t":0,"v":-75},{"k":"c1","c":"c","t":7.45,"v":-75},
{"k":"c2","c":"c","t":0,"v":-75},{"k":"c2","c":"c","t":4.1,"v":-75},
{"k":"g1","c":"g","t":0,"v":-54},{"k":"g1","c":"g","t":6.87,"v":-54},
{"k":"m1","c":"m","t":0,"v":-79},{"k":"m1","c":"m","t":4.45,"v":-79},
{"k":"r1","c":"r","t":0,"v":-45},{"k":"r1","c":"r","t":4.78,"v":-45},
{"k":"r2","c":"r","t":0,"v":-45},{"k":"r2","c":"r","t":4.65,"v":-45}
]
},
"columns":2,
"bounds":"flush",
"spacing":{"row":31,"column":50},
"concat":[
{"width":255,"height":195,"title":"Active","layer":[
 {"data":{"name":"region"},"mark":{"type":"rect","color":"#d9d9d9","clip":true},"encoding":{
  "x":{"field":"x","type":"quantitative","scale":{"domain":[-15.5,244.5],"nice":false,"zero":false},"axis":{"orient":"bottom","values":[0,50,100,150,200],"title":null,"labelPadding":7}},
  "x2":{"field":"x2"},
  "y":{"field":"y","type":"quantitative","scale":{"domain":[-77,122],"nice":false,"zero":false},"axis":{"orient":"left","values":[-50,0,50,100],"title":"Trajectory (cm)","minExtent":44,"maxExtent":44}},
  "y2":{"field":"y2"}}},
 {"data":{"name":"wall"},"mark":{"type":"line","color":"black","strokeWidth":3.5,"clip":true},"encoding":{
  "x":{"field":"x","type":"quantitative","scale":{"domain":[-15.5,244.5],"nice":false,"zero":false},"axis":{"orient":"top","values":[0,50,100,150,200],"labels":false,"title":null}},
  "y":{"field":"y","type":"quantitative","scale":{"domain":[-77,122],"nice":false,"zero":false},"axis":{"orient":"right","values":[-50,0,50,100],"labels":false,"title":null}},
  "order":{"value":null}}},
 {"data":{"name":"trajA"},"mark":{"type":"line","color":"#0000ff","strokeWidth":2.6,"clip":true},"encoding":{
  "x":{"field":"x","type":"quantitative","scale":{"domain":[-15.5,244.5],"nice":false,"zero":false},"axis":null},
  "y":{"field":"y","type":"quantitative","scale":{"domain":[-77,122],"nice":false,"zero":false},"axis":null},
  "detail":{"field":"k"},"order":{"value":null}}}
],"resolve":{"axis":{"x":"independent","y":"independent"}}},
{"width":255,"height":195,"title":"Passive","layer":[
 {"data":{"name":"region"},"mark":{"type":"rect","color":"#d9d9d9","clip":true},"encoding":{
  "x":{"field":"x","type":"quantitative","scale":{"domain":[-15.5,244.5],"nice":false,"zero":false},"axis":{"orient":"bottom","values":[0,50,100,150,200],"title":null,"labelPadding":7}},
  "x2":{"field":"x2"},
  "y":{"field":"y","type":"quantitative","scale":{"domain":[-77,122],"nice":false,"zero":false},"axis":{"orient":"left","values":[-50,0,50,100],"title":null}},
  "y2":{"field":"y2"}}},
 {"data":{"name":"wall"},"mark":{"type":"line","color":"black","strokeWidth":3.5,"clip":true},"encoding":{
  "x":{"field":"x","type":"quantitative","scale":{"domain":[-15.5,244.5],"nice":false,"zero":false},"axis":{"orient":"top","values":[0,50,100,150,200],"labels":false,"title":null}},
  "y":{"field":"y","type":"quantitative","scale":{"domain":[-77,122],"nice":false,"zero":false},"axis":{"orient":"right","values":[-50,0,50,100],"labels":false,"title":null}},
  "order":{"value":null}}},
 {"data":{"name":"trajP"},"mark":{"type":"line","strokeWidth":2.4,"clip":true},"encoding":{
  "x":{"field":"x","type":"quantitative","scale":{"domain":[-15.5,244.5],"nice":false,"zero":false},"axis":null},
  "y":{"field":"y","type":"quantitative","scale":{"domain":[-77,122],"nice":false,"zero":false},"axis":null},
  "color":{"field":"c","type":"nominal","scale":{"domain":["c","g","m","r"],"range":["#00bfbf","#008000","#bf00bf","#ff0000"]},"legend":null},
  "detail":{"field":"k"},"order":{"value":null}}}
],"resolve":{"axis":{"x":"independent","y":"independent"}}},
{"width":255,"height":67,"layer":[
 {"data":{"name":"ref0"},"mark":{"type":"line","color":"#808080","strokeWidth":3,"strokeDash":[8,5]},"encoding":{
  "x":{"field":"t","type":"quantitative","scale":{"domain":[0,8],"nice":false,"zero":false},"axis":{"orient":"top","values":[0,1,2,3,4,5,6,7,8],"labels":false,"title":null}},
  "y":{"field":"v","type":"quantitative","scale":{"domain":[-40,40],"nice":false,"zero":false},"axis":{"orient":"right","values":[-30,0,30],"labels":false,"title":null}}}},
 {"data":{"name":"errA"},"mark":{"type":"line","color":"#0000ff","strokeWidth":2.6,"clip":true},"encoding":{
  "x":{"field":"t","type":"quantitative","scale":{"domain":[0,8],"nice":false,"zero":false},"axis":{"orient":"bottom","values":[0,1,2,3,4,5,6,7,8],"title":null,"labelPadding":9}},
  "y":{"field":"v","type":"quantitative","scale":{"domain":[-40,40],"nice":false,"zero":false},"axis":{"orient":"left","values":[-30,0,30],"title":["Tracking","Err (cm)"],"minExtent":44,"maxExtent":44}},
  "detail":{"field":"k"},"order":{"value":null}}}
],"resolve":{"axis":{"x":"independent","y":"independent"}}},
{"width":255,"height":67,"layer":[
 {"data":{"name":"ref0"},"mark":{"type":"line","color":"#808080","strokeWidth":3,"strokeDash":[8,5]},"encoding":{
  "x":{"field":"t","type":"quantitative","scale":{"domain":[0,8],"nice":false,"zero":false},"axis":{"orient":"top","values":[0,1,2,3,4,5,6,7,8],"labels":false,"title":null}},
  "y":{"field":"v","type":"quantitative","scale":{"domain":[-40,40],"nice":false,"zero":false},"axis":{"orient":"right","values":[-30,0,30],"labels":false,"title":null}}}},
 {"data":{"name":"errP"},"mark":{"type":"line","strokeWidth":2.4,"clip":true},"encoding":{
  "x":{"field":"t","type":"quantitative","scale":{"domain":[0,8],"nice":false,"zero":false},"axis":{"orient":"bottom","values":[0,1,2,3,4,5,6,7,8],"title":null,"labelPadding":9}},
  "y":{"field":"v","type":"quantitative","scale":{"domain":[-40,40],"nice":false,"zero":false},"axis":{"orient":"left","values":[-30,0,30],"title":null}},
  "color":{"field":"c","type":"nominal","scale":{"domain":["c","g","m","r"],"range":["#00bfbf","#008000","#bf00bf","#ff0000"]},"legend":null},
  "detail":{"field":"k"},"order":{"value":null}}}
],"resolve":{"axis":{"x":"independent","y":"independent"}}},
{"width":255,"height":68,"layer":[
 {"data":{"name":"ref45"},"mark":{"type":"line","color":"#808080","strokeWidth":3,"strokeDash":[8,5]},"encoding":{
  "x":{"field":"t","type":"quantitative","scale":{"domain":[0,8],"nice":false,"zero":false},"axis":{"orient":"top","values":[0,1,2,3,4,5,6,7,8],"labels":false,"title":null}},
  "y":{"field":"v","type":"quantitative","scale":{"domain":[-90,0],"nice":false,"zero":false},"axis":{"orient":"right","values":[-90,-45,0],"labels":false,"title":null}}}},
 {"data":{"name":"angA"},"mark":{"type":"line","color":"#0000ff","strokeWidth":2.6,"clip":true},"encoding":{
  "x":{"field":"t","type":"quantitative","scale":{"domain":[0,8],"nice":false,"zero":false},"axis":{"orient":"bottom","values":[0,1,2,3,4,5,6,7,8],"title":"Time (seconds)","labelPadding":9}},
  "y":{"field":"v","type":"quantitative","scale":{"domain":[-90,0],"nice":false,"zero":false},"axis":{"orient":"left","values":[-90,-45,0],"title":["Foveal","Angle (deg)"],"minExtent":44,"maxExtent":44}},
  "detail":{"field":"k"},"order":{"value":null}}}
],"resolve":{"axis":{"x":"independent","y":"independent"}}},
{"width":255,"height":68,"layer":[
 {"data":{"name":"ref45"},"mark":{"type":"line","color":"#808080","strokeWidth":3,"strokeDash":[8,5]},"encoding":{
  "x":{"field":"t","type":"quantitative","scale":{"domain":[0,8],"nice":false,"zero":false},"axis":{"orient":"top","values":[0,1,2,3,4,5,6,7,8],"labels":false,"title":null}},
  "y":{"field":"v","type":"quantitative","scale":{"domain":[-90,0],"nice":false,"zero":false},"axis":{"orient":"right","values":[-90,-45,0],"labels":false,"title":null}}}},
 {"data":{"name":"angP"},"mark":{"type":"line","strokeWidth":2.4,"clip":true},"encoding":{
  "x":{"field":"t","type":"quantitative","scale":{"domain":[0,8],"nice":false,"zero":false},"axis":{"orient":"bottom","values":[0,1,2,3,4,5,6,7,8],"title":"Time (seconds)","labelPadding":9}},
  "y":{"field":"v","type":"quantitative","scale":{"domain":[-90,0],"nice":false,"zero":false},"axis":{"orient":"left","values":[-90,-45,0],"title":null}},
  "color":{"field":"c","type":"nominal","scale":{"domain":["c","g","m","r"],"range":["#00bfbf","#008000","#bf00bf","#ff0000"]},"legend":null},
  "detail":{"field":"k"},"order":{"value":null}}}
],"resolve":{"axis":{"x":"independent","y":"independent"}}}
]
}
